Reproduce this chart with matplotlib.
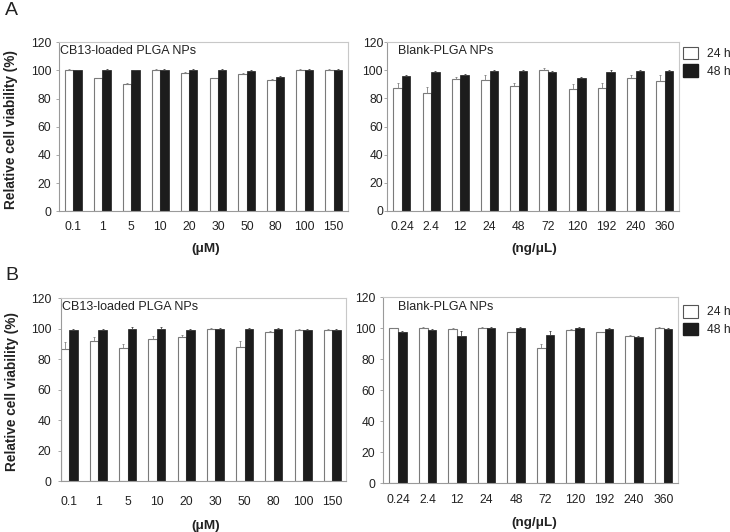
import matplotlib
matplotlib.use("Agg")
import matplotlib.pyplot as plt
import numpy as np
from matplotlib.patches import Patch

plt.rcParams['font.family'] = ['Liberation Sans', 'DejaVu Sans']

# ---------------- data ----------------
cb13_conc = ['0.1', '1', '5', '10', '20', '30', '50', '80', '100', '150']
blank_conc = ['0.24', '2.4', '12', '24', '48', '72', '120', '192', '240', '360']

A_cb13_24 = [100.5, 94.3, 90.7, 100.5, 97.9, 94.3, 97.6, 93.0, 100.2, 100.2]
A_cb13_24_err = [0.6, 0.6, 0.6, 0.6, 0.8, 0.6, 0.7, 0.8, 0.6, 0.6]
A_cb13_48 = [100.0, 100.0, 100.0, 100.0, 100.0, 100.0, 99.5, 95.5, 100.2, 100.2]
A_cb13_48_err = [0.5, 0.8, 0.5, 0.8, 0.8, 0.8, 0.8, 0.6, 0.6, 0.6]

A_blank_24 = [87.2, 83.7, 93.6, 92.9, 88.9, 100.3, 86.7, 87.2, 94.4, 92.4]
A_blank_24_err = [3.5, 4.7, 1.5, 3.8, 2.4, 1.2, 3.4, 3.7, 2.4, 4.3]
A_blank_48 = [96.0, 99.1, 96.7, 99.6, 99.6, 99.1, 94.4, 99.1, 99.6, 99.4]
A_blank_48_err = [1.0, 0.7, 0.5, 0.7, 1.0, 0.5, 0.7, 1.0, 0.5, 1.0]

B_cb13_24 = [86.6, 92.1, 87.3, 93.2, 94.5, 99.6, 88.0, 97.8, 99.3, 99.3]
B_cb13_24_err = [4.6, 2.3, 3.0, 1.8, 1.7, 1.0, 4.2, 1.0, 0.6, 0.8]
B_cb13_48 = [99.3, 99.3, 100.0, 100.0, 99.3, 99.6, 99.8, 100.0, 99.3, 99.3]
B_cb13_48_err = [0.5, 0.5, 1.0, 1.0, 0.8, 1.0, 0.4, 0.5, 0.8, 0.8]

B_blank_24 = [100.0, 100.0, 99.5, 100.0, 97.4, 87.1, 98.9, 97.4, 95.0, 100.0]
B_blank_24_err = [0.5, 0.6, 0.7, 0.6, 0.5, 2.7, 0.6, 0.5, 0.5, 0.7]
B_blank_48 = [97.4, 98.9, 95.0, 100.0, 100.4, 95.7, 100.0, 99.4, 94.2, 99.8]
B_blank_48_err = [0.7, 0.7, 3.0, 0.7, 0.7, 2.6, 1.0, 1.0, 0.8, 0.7]

yticks = [0, 20, 40, 60, 80, 100, 120]
series_labels = ['24 h', '48 h']

# ---------------- layout ----------------
W, H = 730, 532
fig = plt.figure(figsize=(W / 100, H / 100), dpi=100)


def px_axes(x0, x1, yt, yb):
    return fig.add_axes([x0 / W, 1 - yb / H, (x1 - x0) / W, (yb - yt) / H])


BLACK = '#1c1c1c'
EDGE = '#7a7a7a'
TXT = '#222222'


def draw(ax, labels, v24, e24, v48, e48, title, title_x, xlim, ypad, xpad):
    x = np.arange(len(labels))
    w = 0.29
    ax.bar(x - w / 2, v24, w, color='white', edgecolor=EDGE, linewidth=0.8, zorder=2)
    ax.bar(x + w / 2, v48, w, color=BLACK, edgecolor=BLACK, linewidth=0.5, zorder=2)
    ax.errorbar(x - w / 2, v24, yerr=[np.zeros(len(v24)), e24], fmt='none',
                ecolor='#808080', elinewidth=0.6, capsize=1.0, capthick=0.6, zorder=3)
    ax.errorbar(x + w / 2, v48, yerr=[np.zeros(len(v48)), e48], fmt='none',
                ecolor='#444444', elinewidth=0.6, capsize=1.0, capthick=0.6, zorder=3)
    ax.set_xlim(*xlim)
    ax.set_ylim(0, 120)
    ax.set_yticks(yticks)
    ax.set_yticklabels([str(t) for t in yticks], fontsize=8.7, color=TXT)
    ax.set_xticks(x)
    ax.set_xticklabels(labels, fontsize=8.7, color=TXT)
    ax.tick_params(axis='x', length=0, pad=xpad)
    ax.tick_params(axis='y', length=2.5, width=0.6, color='#999999', pad=ypad)
    for s in ['left', 'bottom']:
        ax.spines[s].set_color('#9a9a9a')
        ax.spines[s].set_linewidth(0.8)
    for s in ['top', 'right']:
        ax.spines[s].set_color('#c8c8c8')
        ax.spines[s].set_linewidth(0.8)
    ax.text(title_x, 0.95, title, transform=ax.transAxes, fontsize=9, color=TXT,
            ha='left', va='center')


# Panel A
axA1 = px_axes(59, 348, 42.3, 211.3)
draw(axA1, cb13_conc, A_cb13_24, A_cb13_24_err, A_cb13_48, A_cb13_48_err,
     'CB13-loaded PLGA NPs', 0.005, (-0.5, 9.5), 3.0, 7.0)
axA2 = px_axes(387.3, 679.3, 42.3, 210.7)
draw(axA2, blank_conc, A_blank_24, A_blank_24_err, A_blank_48, A_blank_48_err,
     'Blank-PLGA NPs', 0.038, (-0.5, 9.5), 0.6, 7.6)

# Panel B
axB1 = px_axes(61, 345.7, 298.3, 481)
draw(axB1, cb13_conc, B_cb13_24, B_cb13_24_err, B_cb13_48, B_cb13_48_err,
     'CB13-loaded PLGA NPs', 0.005, (-0.28, 9.46), 4.6, 10.5)
axB2 = px_axes(383.3, 678.3, 297.3, 483.3)
draw(axB2, blank_conc, B_blank_24, B_blank_24_err, B_blank_48, B_blank_48_err,
     'Blank-PLGA NPs', 0.05, (-0.5, 9.5), 3.3, 7.6)

# x-axis unit labels
fig.text(205.5 / W, 1 - 249.3 / H, '(\u03bcM)', fontsize=9.7, fontweight='bold',
         color=TXT, ha='center', va='center')
fig.text(534 / W, 1 - 249.3 / H, '(ng/\u03bcL)', fontsize=9.7, fontweight='bold',
         color=TXT, ha='center', va='center')
fig.text(205.5 / W, 1 - 525.7 / H, '(\u03bcM)', fontsize=9.7, fontweight='bold',
         color=TXT, ha='center', va='center')
fig.text(534 / W, 1 - 523.3 / H, '(ng/\u03bcL)', fontsize=9.7, fontweight='bold',
         color=TXT, ha='center', va='center')

# y-axis labels
fig.text(11 / W, 1 - 130 / H, 'Relative cell viability (%)', fontsize=9.8,
         fontweight='bold', color=TXT, rotation=90, ha='center', va='center')
fig.text(12 / W, 1 - 391.7 / H, 'Relative cell viability (%)', fontsize=9.8,
         fontweight='bold', color=TXT, rotation=90, ha='center', va='center')

# panel letters
fig.text(5 / W, 1 - 15 / H, 'A', fontsize=14, color=TXT, ha='left', va='baseline')
fig.text(5 / W, 1 - 280 / H, 'B', fontsize=14, color=TXT, ha='left', va='baseline')

# legends
handles = [Patch(facecolor='white', edgecolor='#555555', linewidth=0.8),
           Patch(facecolor=BLACK, edgecolor=BLACK)]
for ytop in (46.7, 305):
    fig.legend(handles, series_labels, loc='upper left',
               bbox_to_anchor=(683 / W, 1 - ytop / H), frameon=False,
               fontsize=8.7, handlelength=1.25, handleheight=1.25,
               labelspacing=0.35, handletextpad=0.7, borderpad=0,
               borderaxespad=0, labelcolor=TXT)

fig.savefig('out.png', dpi=100)
